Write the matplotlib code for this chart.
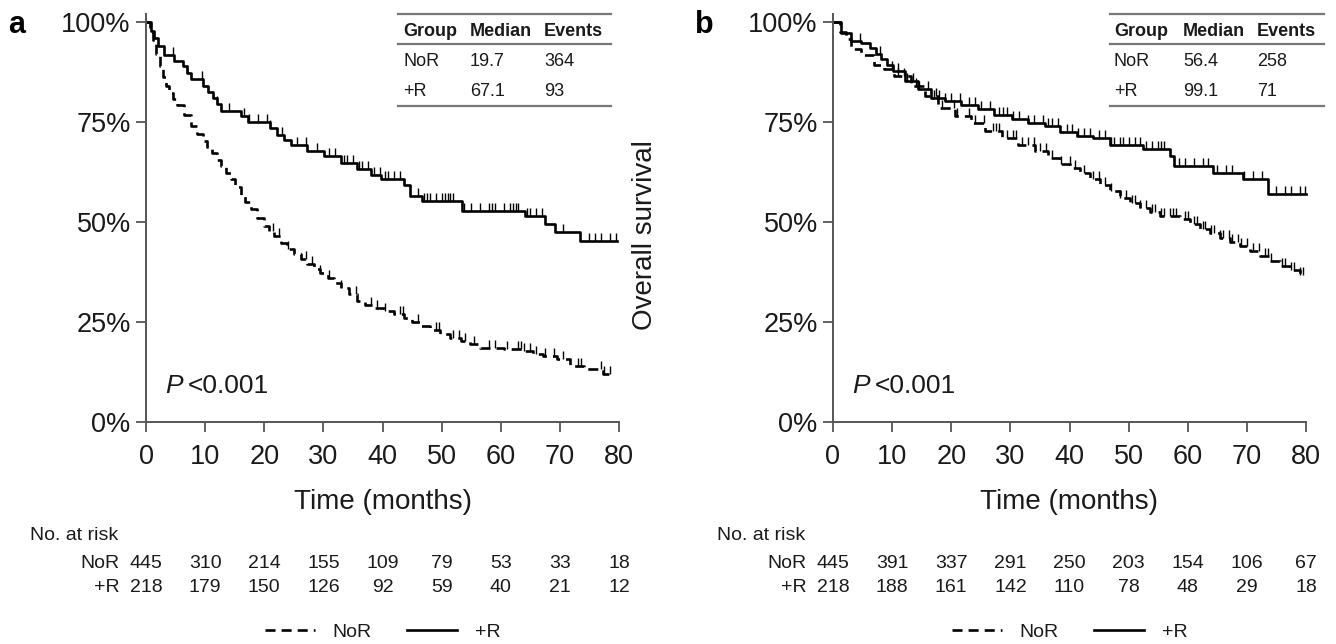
import numpy as np
import matplotlib
matplotlib.use("Agg")
import matplotlib.pyplot as plt
import matplotlib.transforms as mtransforms

plt.rcParams["font.family"] = ["Liberation Sans", "DejaVu Sans"]

# ---- panel a: step points (time in months, survival) ----
a_nor_t = [0, 0.6, 1.2, 1.7, 2.3, 2.8, 3.4, 3.9, 4.6, 5.3, 6.4, 7.6, 8.6, 9.6, 10.4,
           11.2, 12.0, 12.7, 13.5, 14.3, 15.1, 16.0, 16.8, 17.7, 18.8, 20.0, 20.8,
           21.7, 22.8, 23.9, 25.0, 26.2, 27.3, 28.4, 29.5, 30.7, 31.8, 32.9, 34.3,
           35.7, 37.0, 38.5, 40.2, 41.9, 43.6, 45.0, 46.4, 48.1, 49.8, 51.5, 53.2,
           54.8, 56.5, 58.5, 60.5, 63.8, 65.5, 67.2, 69.5, 71.7, 74.0, 77.3, 78.6]
a_nor_s = [1.0, 0.975, 0.955, 0.92, 0.89, 0.862, 0.84, 0.823, 0.808, 0.794, 0.767,
           0.74, 0.72, 0.703, 0.688, 0.673, 0.656, 0.64, 0.623, 0.607, 0.588, 0.569,
           0.55, 0.532, 0.511, 0.49, 0.477, 0.465, 0.448, 0.432, 0.42, 0.407, 0.395,
           0.382, 0.372, 0.361, 0.349, 0.336, 0.319, 0.303, 0.293, 0.284, 0.2775,
           0.269, 0.261, 0.25, 0.24, 0.229, 0.219, 0.211, 0.2025, 0.194, 0.186,
           0.184, 0.182, 0.1775, 0.171, 0.165, 0.157, 0.14, 0.132, 0.119, 0.119]
a_nor_cens = [21.5, 22.5, 24, 27, 28, 29.5, 31, 33, 35.5, 38, 39, 40.5, 43, 43.5, 46,
              49, 49.5, 52, 53, 54, 55.5, 58, 59, 61, 63, 63.5, 64, 65, 66, 67.5, 69,
              70.5, 73, 73.5, 77, 77.5, 78.5]

a_r_t = [0, 0.8, 1.4, 2.0, 3.1, 4.8, 6.2, 6.9, 7.6, 9.6, 10.5, 11.3, 12.0, 12.7, 16.0,
         17.2, 21.0, 22.2, 23.4, 24.5, 27.3, 30.1, 32.9, 35.7, 38.0, 39.7, 43.6, 44.7,
         46.7, 53.4, 64.1, 67.5, 69.2, 73.4, 79.6]
a_r_s = [1.0, 0.977, 0.96, 0.94, 0.919, 0.9025, 0.89, 0.873, 0.857, 0.84, 0.825,
         0.811, 0.795, 0.7775, 0.765, 0.75, 0.735, 0.719, 0.706, 0.694, 0.6775,
         0.665, 0.648, 0.632, 0.619, 0.607, 0.594, 0.565, 0.5525, 0.529, 0.515,
         0.496, 0.475, 0.4525, 0.4525]
a_r_cens = [4.5, 7, 9.5, 12, 14, 16.5, 17.5, 19, 20.5, 21, 23, 25.5, 27, 29, 31, 32,
            33.5, 34, 35, 36, 36.5, 37.5, 38.5, 39.5, 40.5, 41, 42, 43, 46, 47, 47.5,
            48, 49, 50, 50.5, 51, 51.5, 52, 53.7, 55, 56.5, 58, 58.5, 59, 60.5, 61.5,
            62, 62.5, 63, 64.5, 65, 66, 67, 70.5, 75, 76, 77, 78.5, 79.5]

# ---- panel b ----
b_nor_t = [0, 1.2, 2.2, 3.1, 4.8, 7.0, 8.7, 10.4, 13.2, 15.5, 17.8, 20.6, 23.4, 25.7,
           28.5, 31.3, 34.1, 36.4, 38.4, 40.1, 41.8, 43.5, 45.2, 46.8, 48.5, 50.2,
           51.9, 53.6, 55.3, 58.7, 60.3, 62.0, 63.7, 65.5, 67.1, 68.8, 70.5, 72.2,
           73.9, 75.6, 77.3, 79.0, 79.6]
b_nor_s = [1.0, 0.975, 0.957, 0.932, 0.919, 0.894, 0.882, 0.865, 0.84, 0.815, 0.786,
           0.765, 0.748, 0.7275, 0.711, 0.694, 0.6775, 0.661, 0.645, 0.635, 0.623,
           0.608, 0.594, 0.578, 0.561, 0.548, 0.536, 0.525, 0.515, 0.507, 0.495,
           0.482, 0.472, 0.461, 0.45, 0.44, 0.428, 0.415, 0.403, 0.39, 0.38, 0.369,
           0.369]
b_nor_cens = [10, 11, 12, 14, 17.5, 18.5, 20.5, 21, 23, 24, 25.5, 27, 27.5, 28, 29.5,
              30.5, 31, 32, 33, 34, 35, 36, 37, 38.5, 40, 41, 42.5, 44, 45, 46, 47,
              48.5, 49.5, 50.5, 51, 52, 53, 54, 54.5, 55.5, 56, 57, 57.5, 58, 59.5, 60,
              61, 61.5, 62.5, 63, 64, 64.5, 65.5, 66, 67, 67.5, 68.5, 69, 70, 71, 72,
              73, 73.5, 74, 76, 76.5, 77.5, 78, 79, 79.5]

b_r_t = [0, 1.4, 3.1, 4.8, 6.2, 7.2, 8.2, 9.2, 10.1, 12.1, 14.4, 16.6, 18.9, 21.7,
         24.5, 27.3, 30.2, 33.0, 35.8, 38.4, 41.2, 44.0, 46.8, 52.5, 57.0, 57.6, 64.3,
         69.4, 73.6, 80.0]
b_r_s = [1.0, 0.973, 0.9525, 0.948, 0.936, 0.921, 0.907, 0.892, 0.8775, 0.8525,
         0.832, 0.811, 0.8025, 0.794, 0.782, 0.769, 0.757, 0.748, 0.74, 0.725, 0.715,
         0.711, 0.694, 0.682, 0.665, 0.64, 0.623, 0.607, 0.571, 0.571]
b_r_cens = [4.5, 8, 11, 12.5, 13.5, 14.5, 16, 17, 18, 19, 20, 21.5, 23, 24, 25, 26.5,
            28, 28.7, 29.5, 30.5, 31.5, 33, 34, 35.5, 36.3, 37, 38, 39.5, 40.5, 41.5,
            42.5, 43.5, 45, 46, 47, 47.5, 48.5, 49, 50, 51, 52, 53, 54, 55, 55.5, 56,
            58.5, 59.5, 61, 62.5, 63.5, 65, 66.5, 67.5, 69.5, 71, 72.5, 75, 76.5, 77.5,
            79, 79.8]

# ---- summary tables and numbers at risk ----
table_header = ["Group", "Median", "Events"]
a_table = [["NoR", "19.7", "364"], ["+R", "67.1", "93"]]
b_table = [["NoR", "56.4", "258"], ["+R", "99.1", "71"]]

risk_times = [0, 10, 20, 30, 40, 50, 60, 70, 80]
a_risk_nor = [445, 310, 214, 155, 109, 79, 53, 33, 18]
a_risk_r = [218, 179, 150, 126, 92, 59, 40, 21, 12]
b_risk_nor = [445, 391, 337, 291, 250, 203, 154, 106, 67]
b_risk_r = [218, 188, 161, 142, 110, 78, 48, 29, 18]

fig = plt.figure(figsize=(13.36, 6.44), dpi=100)
W, H = 1336, 644

TXT = "#1a1a1a"
AXC = "#555555"
CENS = [(0, 0), (0, 1)]  # upward tick for censored obs


def step_at(t, s, x):
    idx = np.searchsorted(np.asarray(t), np.asarray(x), side="right") - 1
    return np.asarray(s)[np.clip(idx, 0, len(s) - 1)]


def km_panel(left_px, letter, nor, r, table_rows, col_x, line_x,
             risk_nor, risk_r):
    ax = fig.add_axes([left_px / W, 1 - 422 / H, 473 / W, (422 - 14.3) / H])
    ax.set_xlim(0, 80)
    ax.set_ylim(0, 1.02)

    (nt, ns, nc), (rt, rs, rc) = nor, r
    h_nor, = ax.plot(nt, ns, drawstyle="steps-post", color="black", lw=1.9,
                     dashes=(3.8, 2.3), clip_on=False, label="NoR")
    ax.plot(nc, step_at(nt, ns, nc), ls="none", marker=CENS, ms=11,
            mec="black", mew=1.0, clip_on=False)
    h_r, = ax.plot(rt, rs, drawstyle="steps-post", color="black", lw=1.9,
                   clip_on=False, label="+R")
    ax.plot(rc, step_at(rt, rs, rc), ls="none", marker=CENS, ms=11,
            mec="black", mew=1.0, clip_on=False)

    for side in ("top", "right"):
        ax.spines[side].set_visible(False)
    for side in ("left", "bottom"):
        ax.spines[side].set_color(AXC)
        ax.spines[side].set_linewidth(1.4)
    ax.set_xticks(risk_times)
    ax.set_yticks([0, 0.25, 0.5, 0.75, 1.0])
    ax.set_yticklabels(["0%", "25%", "50%", "75%", "100%"])
    ax.tick_params(axis="both", direction="out", length=7, width=1.3,
                   color=AXC, labelsize=19.5, labelcolor=TXT)
    ax.tick_params(axis="x", pad=8.5)
    ax.tick_params(axis="y", pad=4)

    ax.text(0.5, -0.196, "Time (months)", transform=ax.transAxes, ha="center",
            va="center", fontsize=20, color=TXT)
    ax.text(0.041, 0.088, "P", transform=ax.transAxes, ha="left",
            va="center", fontsize=19, style="italic", color=TXT)
    ax.text(0.088, 0.088, "<0.001", transform=ax.transAxes, ha="left",
            va="center", fontsize=19, color=TXT)

    # median / events table
    for yl in (1.02, 0.945, 0.79):
        ax.plot(line_x, [yl, yl], color="#777777", lw=1.6, clip_on=False)
    for cx, head in zip(col_x, table_header):
        ax.text(cx, 0.977, head, ha="left", va="center", fontsize=13,
                fontweight="bold", color=TXT)
    for ry, row in zip((0.903, 0.828), table_rows):
        for cx, val in zip(col_x, row):
            ax.text(cx, ry, val, ha="left", va="center", fontsize=13, color=TXT)

    fig.text((left_px - 138) / W, 1 - 33 / H, letter, fontsize=22,
             fontweight="bold", va="baseline", ha="left", color="black")

    # numbers at risk
    bt = mtransforms.blended_transform_factory(ax.transData, fig.transFigure)
    ax.text(-19.6, 1 - 536 / H, "No. at risk", transform=bt, ha="left",
            va="center", fontsize=14, color=TXT)
    for yy, lab, vals in ((1 - 563 / H, "NoR", risk_nor), (1 - 587 / H, "+R", risk_r)):
        ax.text(-4.4, yy, lab, transform=bt, ha="right", va="center",
                fontsize=14, color=TXT)
        for tx, v in zip(risk_times, vals):
            ax.text(tx, yy, str(v), transform=bt, ha="center", va="center",
                    fontsize=14, color=TXT)

    cx = (left_px + 473 / 2) / W
    fig.legend([h_nor, h_r], ["NoR", "+R"], loc="center",
               bbox_to_anchor=(cx, 1 - 632 / H), ncol=2, frameon=False,
               fontsize=14, handlelength=2.6, handletextpad=0.9,
               columnspacing=1.8, labelcolor=TXT)
    return ax


km_panel(146, "a", (a_nor_t, a_nor_s, a_nor_cens), (a_r_t, a_r_s, a_r_cens),
         a_table, (43.5, 54.8, 67.3), (42.6, 78.6), a_risk_nor, a_risk_r)
km_panel(833, "b", (b_nor_t, b_nor_s, b_nor_cens), (b_r_t, b_r_s, b_r_cens),
         b_table, (47.5, 59.2, 71.7), (46.8, 83.0), b_risk_nor, b_risk_r)

fig.text(645 / W, 1 - 235 / H, "Overall survival", rotation=90, ha="center",
         va="center", fontsize=20, color=TXT)

fig.savefig("out.png", dpi=100)
